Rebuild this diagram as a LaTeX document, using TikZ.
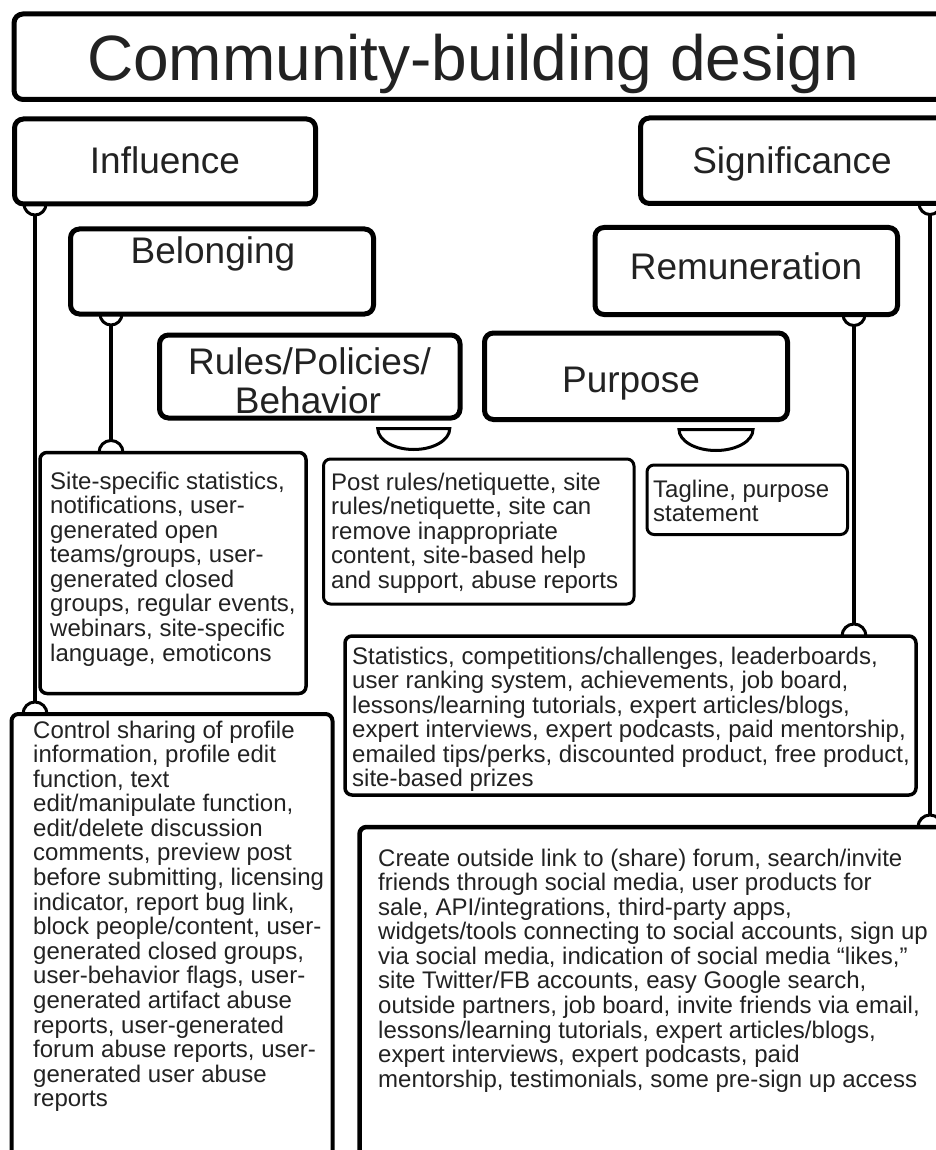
\documentclass[tikz,border=0pt]{standalone}
\usepackage{fontspec}
\setmainfont{Liberation Sans}
\usetikzlibrary{calc}
\definecolor{ink}{HTML}{222222}
\begin{document}
\begin{tikzpicture}[x=1pt,y=1pt,
  mainbox/.style={draw=black,line width=5pt,rounded corners=9pt,inner sep=0pt,outer sep=0pt},
  leafbox/.style={draw=black,line width=3.5pt,rounded corners=7pt,inner sep=0pt,outer sep=0pt},
  biglabel/.style={text=ink,font=\fontsize{37}{40}\selectfont,inner sep=0pt,anchor=base},
  leaftext/.style={text=ink,font=\fontsize{24}{24}\selectfont,inner sep=0pt,anchor=base west},
  conn/.style={draw=black,line width=4pt},
  joint/.style={draw=black,line width=3pt},
  halfmoon/.style={draw=black,line width=3pt}]
\useasboundingbox (0,0) rectangle (936,-1150);
\clip (0,0) rectangle (936,-1150);
\fill[white] (0,0) rectangle (936,-1150);

% main boxes
\node[mainbox,minimum width=946pt,minimum height=85.5pt] (title) at (487,-56.75) {};
\node[mainbox,minimum width=301pt,minimum height=85pt] (infl) at (165,-161.5) {};
\node[mainbox,minimum width=330pt,minimum height=85.5pt] (signif) at (805.5,-160.75) {};
\node[mainbox,minimum width=303pt,minimum height=85pt] (belong) at (222,-271.5) {};
\node[mainbox,minimum width=302.5pt,minimum height=87pt] (remun) at (746.25,-271) {};
\node[mainbox,minimum width=300.5pt,minimum height=83pt] (rules) at (309.75,-376.5) {};
\node[mainbox,minimum width=303pt,minimum height=86.5pt] (purp) at (636,-376.25) {};

% labels
\node[text=ink,font=\fontsize{64}{70}\selectfont,inner sep=0pt,anchor=base] (ttitle) at (473,-81) {Community-building design};
\node[biglabel] (tinfl) at (165,-174) {Influence};
\node[biglabel] (tsignif) at (792,-174) {Significance};
\node[biglabel] (tbelong) at (213,-263) {Belonging};
\node[biglabel] (tremun) at (746,-279) {Remuneration};
\node[biglabel] (trules1) at (309.5,-374) {Rules/Policies/};
\node[biglabel] (trules2) at (308,-413) {Behavior};
\node[biglabel] (tpurp) at (631,-392) {Purpose};

% leaf boxes
\node[leafbox,minimum width=266pt,minimum height=241pt] (site) at (173,-573) {};
\node[leafbox,line width=3pt,minimum width=310.5pt,minimum height=145pt] (post) at (478.75,-531.5) {};
\node[leafbox,line width=3pt,minimum width=200.5pt,minimum height=69.5pt] (tag) at (747.25,-499.75) {};
\node[leafbox,minimum width=571pt,minimum height=159pt] (stats) at (630.5,-715.5) {};
\node[leafbox,line width=4pt,minimum width=321pt,minimum height=456pt] (ctrl) at (172,-942) {};
\node[leafbox,line width=4.5pt,minimum width=600.5pt,minimum height=343pt] (create) at (659.75,-998.5) {};

% leaf texts
\node[leaftext] (tsite) at (50,-489) {\begin{tabular}[t]{@{}l@{}}
Site-specific statistics,\\
notifications, user-\\
generated open\\
teams/groups, user-\\
generated closed\\
groups, regular events,\\
webinars, site-specific\\
language, emoticons\end{tabular}};
\node[leaftext] (tpost) at (331,-490) {\begin{tabular}[t]{@{}l@{}}
Post rules/netiquette, site\\
rules/netiquette, site can\\
remove inappropriate\\
content, site-based help\\
and support, abuse reports\end{tabular}};
\node[leaftext] (ttag) at (653,-497) {\begin{tabular}[t]{@{}l@{}}
Tagline, purpose\\
statement\end{tabular}};
\node[leaftext] (tstats) at (352,-664) {\begin{tabular}[t]{@{}l@{}}
Statistics, competitions/challenges, leaderboards,\\
user ranking system, achievements, job board,\\
lessons/learning tutorials, expert articles/blogs,\\
expert interviews, expert podcasts, paid mentorship,\\
emailed tips/perks, discounted product, free product,\\
site-based prizes\end{tabular}};
\node[leaftext] (tctrl) at (33,-738) {\begin{tabular}[t]{@{}l@{}}
Control sharing of profile\\
information, profile edit\\
function, text\\
edit/manipulate function,\\
edit/delete discussion\\
comments, preview post\\
before submitting, licensing\\
indicator, report bug link,\\
block people/content, user-\\
generated closed groups,\\
user-behavior flags, user-\\
generated artifact abuse\\
reports, user-generated\\
forum abuse reports, user-\\
generated user abuse\\
reports\end{tabular}};
\node[leaftext] (tcreate) at (378,-866) {\begin{tabular}[t]{@{}l@{}}
Create outside link to (share) forum, search/invite\\
friends through social media, user products for\\
sale, API/integrations, third-party apps,\\
widgets/tools connecting to social accounts, sign up\\
via social media, indication of social media “likes,”\\
site Twitter/FB accounts, easy Google search,\\
outside partners, job board, invite friends via email,\\
lessons/learning tutorials, expert articles/blogs,\\
expert interviews, expert podcasts, paid\\
mentorship, testimonials, some pre-sign up access\end{tabular}};

% connector x positions
\coordinate (xA) at (35,0);
\coordinate (xB) at (111,0);
\coordinate (xC) at (854,0);
\coordinate (xD) at (930,0);

% connectors: cup under source, line, dome on target
\foreach \src/\dst/\xx in {infl/ctrl/xA, belong/site/xB, remun/stats/xC, signif/create/xD}{
  \path (\src.south -| \xx) coordinate (s) (\dst.north -| \xx) coordinate (t);
  \draw[joint] ([xshift=-11pt]s) arc[start angle=180,end angle=360,radius=11pt];
  \draw[conn] ([yshift=-11pt]s) -- ([yshift=12pt]t);
  \draw[joint] ([xshift=-12pt]t) arc[start angle=180,end angle=0,radius=12pt];
}

% half-moons under Rules and Purpose
\draw[halfmoon] ([xshift=68pt,yshift=-10.5pt]rules.south) arc[start angle=180,end angle=360,x radius=36pt,y radius=21pt] -- cycle;
\draw[halfmoon] ([xshift=43pt,yshift=-10pt]purp.south) arc[start angle=180,end angle=360,x radius=37pt,y radius=21pt] -- cycle;
\end{tikzpicture}
\end{document}
